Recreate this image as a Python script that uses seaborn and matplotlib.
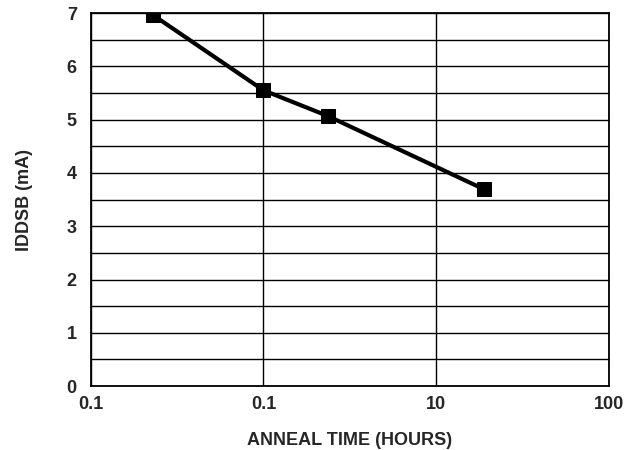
import numpy as np
import pandas as pd
import matplotlib
matplotlib.use("Agg")
import matplotlib.pyplot as plt
import seaborn as sns

# data
anneal_hours = [0.23, 1.0, 2.35, 19.0]
iddsb_ma = [6.96, 5.55, 5.07, 3.69]

x_ticks = [0.1, 1, 10, 100]
x_tick_labels = ["0.1", "0.1", "10", "100"]
y_ticks = [0, 1, 2, 3, 4, 5, 6, 7]

sns.set_style("white")
plt.rcParams['font.family'] = ['Liberation Sans', 'DejaVu Sans']
plt.rcParams['font.weight'] = 'bold'

df = pd.DataFrame({'hours': anneal_hours, 'iddsb': iddsb_ma})

fig = plt.figure(figsize=(6.39, 4.5), dpi=100)
ax = fig.add_axes([0.142, 0.142, 0.811, 0.829])

ax.set_xscale('log')
sns.lineplot(data=df, x='hours', y='iddsb', ax=ax, color='black',
             linewidth=3.0, marker='s', markersize=10, markeredgecolor='black',
             zorder=5)

ax.set_xlim(0.1, 100)
ax.set_ylim(0, 7)
ax.set_xticks(x_ticks)
ax.set_xticklabels(x_tick_labels)
ax.xaxis.set_minor_locator(matplotlib.ticker.NullLocator())
# gridlines every 0.5, labels only on whole numbers
half_steps = np.arange(0, 7.01, 0.5)
ax.set_yticks(half_steps)
ax.set_yticklabels([str(int(v)) if v == int(v) else '' for v in half_steps])

ax.grid(True, which='major', color='black', linewidth=1.0)
ax.tick_params(axis='both', length=0, labelsize=13)
ax.tick_params(axis='x', pad=7)
ax.tick_params(axis='y', pad=10)
for s in ax.spines.values():
    s.set_color('black')
    s.set_linewidth(1.3)

ax.set_xlabel('ANNEAL TIME (HOURS)', fontsize=13, fontweight='bold', labelpad=14)
ax.set_ylabel('IDDSB (mA)', fontsize=13, fontweight='bold', labelpad=24)

fig.savefig('out.png', dpi=100)
